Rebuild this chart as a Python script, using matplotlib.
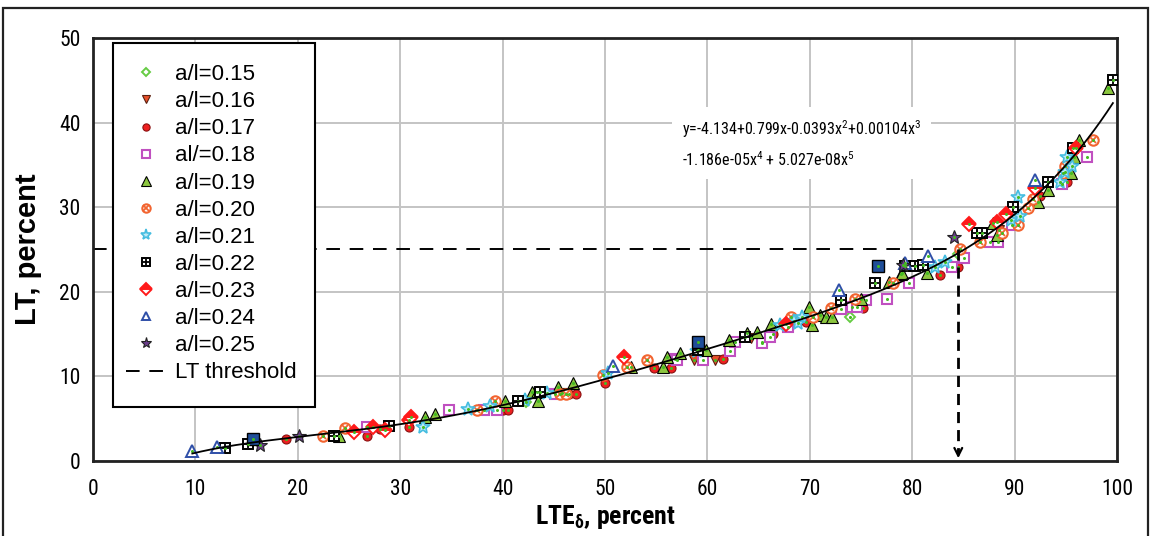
import numpy as np
import matplotlib
matplotlib.use("Agg")
import matplotlib.pyplot as plt
from matplotlib import font_manager
from matplotlib.patches import Rectangle

# ---------------- data ----------------
x015 = [42.3, 73.9, 84.5]
y015 = [7.0, 17.0, 24.5]
x016 = [45.8, 58.7, 60.7, 64.3, 88.5]
y016 = [8.0, 11.9, 11.9, 14.5, 27.3]
x017 = [18.8, 26.8, 28.0, 30.9, 40.0, 40.5, 46.5, 47.2, 50.0, 54.8, 56.4, 61.5, 65.3, 66.4, 69.6, 75.2, 82.7, 84.5, 92.5, 95.1]
y017 = [2.6, 3.0, 3.8, 4.0, 6.0, 6.0, 7.9, 7.9, 9.2, 11.0, 11.0, 12.0, 14.1, 15.0, 16.4, 18.1, 22.0, 22.9, 31.3, 33.0]
x018 = [26.8, 34.8, 38.2, 39.5, 45.1, 56.8, 57.0, 59.6, 62.2, 62.7, 65.3, 66.1, 67.9, 73.0, 74.1, 74.6, 75.5, 77.5, 79.7, 83.9, 85.1, 87.6, 88.4, 89.7, 94.6, 97.1]
y018 = [4.0, 6.0, 6.0, 6.0, 7.9, 12.1, 11.9, 11.9, 13.0, 14.1, 13.9, 14.7, 15.8, 18.0, 18.2, 18.2, 19.0, 19.1, 21.0, 22.9, 24.0, 25.9, 25.9, 27.9, 32.8, 35.9]
x019 = [24.0, 32.4, 33.4, 40.2, 42.9, 43.4, 43.5, 45.4, 46.9, 52.5, 55.7, 56.1, 57.3, 59.9, 62.1, 63.9, 64.8, 66.2, 69.9, 70.2, 71.0, 71.6, 72.2, 75.0, 77.7, 78.9, 79.0, 81.4, 87.9, 88.3, 92.3, 93.3, 95.5, 95.8, 96.3, 99.1]
y019 = [3.0, 5.2, 5.6, 7.1, 8.2, 8.2, 7.1, 8.8, 9.2, 11.1, 11.1, 12.3, 12.8, 13.1, 14.3, 15.1, 15.2, 16.2, 18.2, 16.1, 17.2, 17.0, 17.0, 19.2, 21.2, 22.1, 22.2, 22.2, 28.1, 26.7, 30.6, 32.0, 34.0, 35.9, 38.0, 44.1]
x020 = [22.5, 24.6, 37.5, 39.3, 45.6, 46.2, 49.8, 52.1, 54.1, 68.2, 70.3, 72.1, 74.4, 78.1, 84.7, 86.6, 88.8, 90.3, 91.3, 91.8, 94.7, 94.9, 97.7]
y020 = [2.9, 3.9, 6.0, 7.1, 7.9, 7.9, 10.2, 11.1, 11.9, 17.0, 17.0, 18.1, 19.1, 21.0, 25.0, 25.9, 27.0, 27.9, 29.9, 31.0, 34.0, 34.9, 37.9]
x021 = [32.2, 36.6, 38.8, 42.2, 44.3, 50.3, 59.0, 67.1, 68.5, 68.8, 69.2, 82.2, 83.2, 89.6, 90.5, 90.3, 94.4, 94.9, 95.6, 95.1]
y021 = [4.0, 6.1, 6.5, 7.2, 8.0, 10.4, 13.0, 16.1, 16.5, 16.3, 17.0, 22.9, 23.5, 28.5, 29.0, 31.2, 33.0, 34.2, 34.9, 35.9]
x022 = [12.9, 15.1, 23.5, 28.9, 41.5, 43.7, 59.1, 63.7, 73.0, 76.4, 79.3, 80.3, 81.1, 86.3, 86.8, 89.8, 93.3, 95.7, 99.6]
y022 = [1.5, 2.0, 2.9, 4.1, 7.1, 8.2, 13.1, 14.7, 19.0, 21.0, 23.0, 23.0, 23.2, 27.0, 27.0, 30.0, 33.0, 37.0, 45.0]
x023 = [25.5, 27.3, 28.5, 30.9, 31.1, 51.9, 67.7, 85.5, 88.3, 89.2, 92.0, 96.0]
y023 = [3.4, 4.0, 3.7, 4.8, 5.2, 12.3, 16.2, 28.0, 28.3, 29.2, 32.3, 37.0]
x024 = [9.7, 12.1, 50.8, 72.9, 79.3, 81.5, 92.0]
y024 = [1.2, 1.7, 11.2, 20.2, 23.4, 24.2, 33.2]
x025 = [16.3, 20.1, 79.1, 84.1]
y025 = [1.9, 3.0, 23.2, 26.5]
x_extra = [15.6, 59.1, 76.7]
y_extra = [2.6, 14.1, 23.0]

lt_threshold = 25.0
lte_threshold = 84.5

labels = ["a/l=0.15", "a/l=0.16", "a/l=0.17", "al/=0.18", "a/l=0.19", "a/l=0.20",
          "a/l=0.21", "a/l=0.22", "a/l=0.23", "a/l=0.24", "a/l=0.25"]
equation = ("y=-4.134+0.799x-0.0393x$^2$+0.00104x$^3$\n"
            "-1.186e-05x$^4$ + 5.027e-08x$^5$")

# ---------------- fonts ----------------
names = {f.name for f in font_manager.fontManager.ttflist}
base_font = "Liberation Sans" if "Liberation Sans" in names else "DejaVu Sans"
narrow_font = base_font
for cand in ["Roboto Condensed", "Archivo Narrow", "PT Sans Narrow"]:
    if cand in names:
        narrow_font = cand
        break
plt.rcParams["font.family"] = [base_font]
plt.rcParams["mathtext.fontset"] = "custom"
plt.rcParams["mathtext.rm"] = narrow_font
plt.rcParams["mathtext.it"] = narrow_font
plt.rcParams["mathtext.bf"] = narrow_font + ":bold"

W, H = 1151, 536
fig = plt.figure(figsize=(W / 100, H / 100), dpi=100)
ax = fig.add_axes([93 / W, (H - 461) / H, (1117 - 93) / W, (461 - 38) / H])

# outer frame
fig.patches.append(Rectangle((3 / W, -0.01), (1148 - 3) / W, (H - 8) / H + 0.01,
                             transform=fig.transFigure, fill=False,
                             edgecolor="#222222", linewidth=1.6, zorder=0))

ax.set_xlim(0, 100)
ax.set_ylim(0, 50)
ax.set_xticks(np.arange(0, 101, 10))
ax.set_yticks(np.arange(0, 51, 10))
ax.grid(True, color="#c4c4c4", linewidth=1.4)
ax.set_axisbelow(True)
for s in ax.spines.values():
    s.set_linewidth(2.0)
    s.set_color("#222222")
ax.tick_params(axis="x", length=0, pad=13, labelsize=15.5)
ax.tick_params(axis="y", length=0, pad=9, labelsize=15.5)
for lab in ax.get_xticklabels() + ax.get_yticklabels():
    lab.set_family(narrow_font)

ax.set_xlabel("LTE$_\\mathbf{\\delta}$, percent", fontsize=18.5, fontweight="bold", family=narrow_font)
ax.xaxis.set_label_coords(0.5, -0.1)
ax.xaxis.label.set_va("top")
ax.set_ylabel("LT, percent", fontsize=21, fontweight="bold", family=base_font)
ax.yaxis.set_label_coords(-0.05, 0.5)


def pl(x, y, **kw):
    return ax.plot(x, y, linestyle="none", **kw)[0]


h15 = pl(x015, y015, marker="D", ms=5.5, mfc="white", mec="#66cc44", mew=1.4, zorder=3)
h16 = pl(x016, y016, marker="v", ms=6.5, mfc="#e8502a", mec="#5a2010", mew=0.8, zorder=3)
h17 = pl(x017, y017, marker="o", ms=6.5, mfc="#ee2020", mec="#8b1010", mew=0.8, zorder=3)
h18 = pl(x018, y018, marker="s", ms=7, mfc="white", mec="#c050c0", mew=1.5, zorder=3)
h19 = pl(x019, y019, marker="^", ms=8.5, mfc="#8cc63f", mec="black", mew=0.8, zorder=3)
h20a = pl(x020, y020, marker="o", ms=7.5, mfc="white", mec="#f26430", mew=1.5, zorder=3)
h20b = pl(x020, y020, marker="x", ms=5, mec="#f26430", mew=1.3, zorder=3)
h21 = pl(x021, y021, marker="*", ms=10, mfc="#bfeaf6", mec="#45bde0", mew=1.2, zorder=3)
h22a = pl(x022, y022, marker="s", ms=7.5, mfc="white", mec="black", mew=1.4, zorder=3)
h22b = pl(x022, y022, marker="+", ms=6, mec="black", mew=1.3, zorder=3)
h23 = pl(x023, y023, marker="D", ms=7.5, mfc="#ff1a1a", mfcalt="white", fillstyle="top",
         mec="#ff1a1a", mew=1.4, zorder=3)
h24 = pl(x024, y024, marker="^", ms=8, mfc="white", mec="#2f4fa8", mew=1.4, zorder=3)
h25 = pl(x025, y025, marker="*", ms=10, mfc="#6a3d8a", mec="#222222", mew=0.8, zorder=3)
pl(x_extra, y_extra, marker="s", ms=8, mfc="#1f4e99", mec="black", mew=1.0, zorder=3)

# combined series (small green dots) and its 5th-order trendline
all_x = np.concatenate([x015, x016, x017, x018, x019, x020, x021, x022, x023, x024, x025, x_extra])
all_y = np.concatenate([y015, y016, y017, y018, y019, y020, y021, y022, y023, y024, y025, y_extra])
pl(all_x, all_y, marker="o", ms=2.2, mfc="#44bb22", mec="#44bb22", mew=0, zorder=4)
coef = np.polyfit(all_x, all_y, 5)
xs = np.linspace(all_x.min(), all_x.max(), 300)
ax.plot(xs, np.polyval(coef, xs), color="black", linewidth=1.3, zorder=5)

# threshold lines
hth, = ax.plot([0, lte_threshold], [lt_threshold, lt_threshold], color="black",
               linestyle=(0, (7, 5)), linewidth=1.4, zorder=2)
ax.plot([lte_threshold, lte_threshold], [lt_threshold, 0.8], color="black",
        linestyle=(0, (4, 2.5)), linewidth=2.0, zorder=6)
ax.annotate("", xy=(lte_threshold, 0), xytext=(lte_threshold, 1.6),
            arrowprops=dict(arrowstyle="->", color="black", lw=1.6, mutation_scale=14),
            zorder=6)

# equation
ax.text(57.5, 37.5, equation, fontsize=11.5, va="center", ha="left", linespacing=1.65,
        family=narrow_font, bbox=dict(facecolor="white", edgecolor="none", pad=7), zorder=6)

# legend frame + legend
ax.add_patch(Rectangle(((113 - 93) / 1024, (461 - 407) / 423), (315 - 113) / 1024, (407 - 43) / 423,
                       transform=ax.transAxes, facecolor="white", edgecolor="black",
                       linewidth=1.5, zorder=7))
handles = [h15, h16, h17, h18, h19, (h20a, h20b), h21, (h22a, h22b), h23, h24, h25, hth]
leg = ax.legend(handles, labels + ["LT threshold"], loc="upper left",
                bbox_to_anchor=((115 - 93) / 1024, (461 - 53) / 423), frameon=False,
                fontsize=16, handlelength=1.8, handletextpad=0.4, labelspacing=0.275,
                borderpad=0, markerscale=0.8)
leg.set_zorder(8)

fig.savefig("out.png", dpi=100)
